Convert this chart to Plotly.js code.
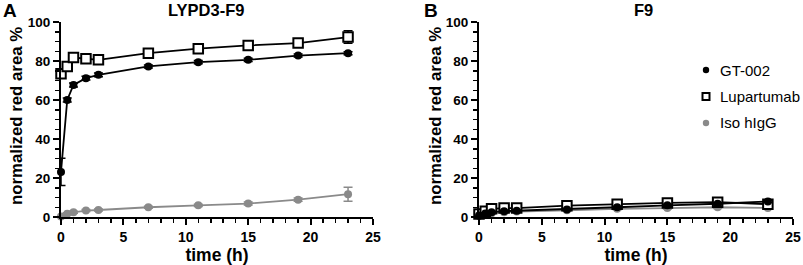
<!DOCTYPE html>
<html>
<head>
<meta charset="utf-8">
<script src="https://cdn.plot.ly/plotly-3.0.1.min.js"></script>
<style>
html,body{margin:0;padding:0;background:#fff;}
#chart{width:803px;height:265px;}
</style>
</head>
<body>
<div id="chart"></div>
<script>
// ---- data ----
var timeH = [0, 0.5, 1, 2, 3, 7, 11, 15, 19, 23];

// Panel A: LYPD3-F9
var gt002_A = [23.1, 60.0, 67.7, 71.2, 72.9, 77.2, 79.4, 80.6, 82.8, 84.0];
var gt002_A_sd = [7.0, 1.0, 1.0, 1.0, 1.0, 0.8, 0.8, 0.8, 0.8, 0.8];
var lupa_A = [73.4, 77.2, 81.8, 81.1, 80.6, 84.0, 86.3, 88.0, 89.2, 92.3];
var lupa_A_sd = [1.0, 1.0, 1.0, 1.0, 1.0, 1.0, 1.0, 1.2, 1.5, 3.2];
var iso_A = [0.3, 1.7, 2.4, 3.3, 3.6, 5.0, 6.0, 6.9, 8.9, 11.7];
var iso_A_sd = [0.3, 0.5, 0.5, 0.5, 0.5, 0.5, 0.6, 0.8, 0.8, 3.6];

// Panel B: F9
var gt002_B = [0.8, 1.8, 2.5, 3.0, 3.2, 3.9, 5.0, 6.0, 6.8, 8.0];
var gt002_B_sd = [0.3, 0.4, 0.4, 0.4, 0.4, 0.5, 0.5, 0.5, 0.6, 0.6];
var lupa_B = [1.5, 3.0, 4.2, 4.6, 4.6, 5.8, 6.6, 7.2, 7.6, 6.6];
var lupa_B_sd = [0.3, 0.4, 0.4, 0.4, 0.4, 0.5, 0.5, 0.5, 0.6, 0.6];
var iso_B = [0.5, 1.3, 1.9, 2.4, 2.8, 3.4, 4.2, 4.6, 5.0, 4.6];
var iso_B_sd = [0.3, 0.4, 0.4, 0.4, 0.4, 0.5, 0.5, 0.5, 0.6, 0.6];

var seriesNames = ['GT-002', 'Lupartumab', 'Iso hIgG'];
var panelTitles = ['LYPD3-F9', 'F9'];
var panelLetters = ['A', 'B'];
var xTitle = 'time (h)';
var yTitle = 'normalized red area %';

// ---- styling ----
var W = 803, H = 265;
var plotTop = 22, plotBot = 217;
var FONT = 'Liberation Sans, Arial, sans-serif';
var GRAY = '#8a8a8a';
function px2x(p){ return p / W; }
function px2y(p){ return (plotBot - p) / (plotBot - plotTop); }

var styles = [
  {marker:{symbol:'circle', size:8, color:'#000'}, line:{color:'#000', width:1.8}, err:'#000'},
  {marker:{symbol:'square', size:9.5, color:'#fff', line:{color:'#000', width:2}}, line:{color:'#000', width:1.8}, err:'#000'},
  {marker:{symbol:'circle', size:8, color:GRAY}, line:{color:GRAY, width:1.8}, err:GRAY}
];

function mk(x, y, sd, s, name, xa, ya){
  return {
    x: x, y: y, type:'scatter', mode:'lines+markers', name:name,
    xaxis: xa, yaxis: ya, showlegend:false, cliponaxis:false,
    marker: s.marker, line: s.line,
    error_y: {type:'data', array: sd, visible:true, color:s.err, thickness:1.5, width:4.5}
  };
}

var data = [
  mk(timeH, iso_A, iso_A_sd, styles[2], seriesNames[2], 'x', 'y'),
  mk(timeH, gt002_A, gt002_A_sd, styles[0], seriesNames[0], 'x', 'y'),
  mk(timeH, lupa_A, lupa_A_sd, styles[1], seriesNames[1], 'x', 'y'),
  mk(timeH, iso_B, iso_B_sd, styles[2], seriesNames[2], 'x2', 'y2'),
  mk(timeH, lupa_B, lupa_B_sd, styles[1], seriesNames[1], 'x2', 'y2'),
  mk(timeH, gt002_B, gt002_B_sd, styles[0], seriesNames[0], 'x2', 'y2')
];

function xaxis(domain, anchor){
  return {
    domain: domain, anchor: anchor, range:[0,25], dtick:5, tick0:0,
    showline:true, linecolor:'#000', linewidth:2, mirror:false,
    ticks:'outside', ticklen:6, tickwidth:2, tickcolor:'#000',
    minor:{dtick:1, ticks:'outside', ticklen:4, tickwidth:1.5, tickcolor:'#000'},
    showgrid:false, zeroline:false, fixedrange:true,
    tickfont:{family:FONT, size:14, color:'#000', weight:'bold'},
    title:{text:xTitle, font:{family:FONT, size:17.5, color:'#000', weight:'bold'}, standoff:5}
  };
}
function yaxis(domain, anchor){
  return {
    domain: domain, anchor: anchor, range:[0,100], dtick:20, tick0:0,
    showline:true, linecolor:'#000', linewidth:2,
    ticks:'outside', ticklen:6, tickwidth:2, tickcolor:'#000',
    minor:{dtick:5, ticks:'outside', ticklen:4, tickwidth:1.5, tickcolor:'#000'},
    showgrid:false, zeroline:false, fixedrange:true,
    tickfont:{family:FONT, size:13.5, color:'#000', weight:'bold'}
  };
}

var annotations = [
  {text:panelLetters[0], x:px2x(10), y:px2y(11), xref:'paper', yref:'paper', showarrow:false, xanchor:'center', yanchor:'middle', font:{family:FONT, size:19, color:'#000', weight:'bold'}},
  {text:panelLetters[1], x:px2x(431), y:px2y(11), xref:'paper', yref:'paper', showarrow:false, xanchor:'center', yanchor:'middle', font:{family:FONT, size:19, color:'#000', weight:'bold'}},
  {text:panelTitles[0], x:px2x(206), y:px2y(10), xref:'paper', yref:'paper', showarrow:false, xanchor:'center', yanchor:'middle', font:{family:FONT, size:16.5, color:'#000', weight:'bold'}},
  {text:panelTitles[1], x:px2x(643), y:px2y(10), xref:'paper', yref:'paper', showarrow:false, xanchor:'center', yanchor:'middle', font:{family:FONT, size:16.5, color:'#000', weight:'bold'}},
  {text:yTitle, textangle:-90, x:px2x(17), y:px2y(116), xref:'paper', yref:'paper', showarrow:false, xanchor:'center', yanchor:'middle', font:{family:FONT, size:16.8, color:'#000', weight:'bold'}},
  {text:yTitle, textangle:-90, x:px2x(436), y:px2y(116), xref:'paper', yref:'paper', showarrow:false, xanchor:'center', yanchor:'middle', font:{family:FONT, size:16.8, color:'#000', weight:'bold'}}
];

// custom legend (marker glyph + label)
var legY = [70, 96.5, 123];
var legX = 706, textX = 718;
var shapes = [];
for (var i = 0; i < seriesNames.length; i++){
  annotations.push({text:seriesNames[i], x:px2x(textX), y:px2y(legY[i]), xref:'paper', yref:'paper', showarrow:false, xanchor:'left', yanchor:'middle', font:{family:FONT, size:15, color:'#000'}});
}
shapes.push({type:'circle', xref:'paper', yref:'paper', x0:px2x(legX-3.2), x1:px2x(legX+3.2), y0:px2y(legY[0]+3.2), y1:px2y(legY[0]-3.2), fillcolor:'#000', line:{color:'#000', width:0}});
shapes.push({type:'rect', xref:'paper', yref:'paper', x0:px2x(legX-3.5), x1:px2x(legX+3.5), y0:px2y(legY[1]+3.5), y1:px2y(legY[1]-3.5), fillcolor:'#fff', line:{color:'#000', width:2}});
shapes.push({type:'circle', xref:'paper', yref:'paper', x0:px2x(legX-3.2), x1:px2x(legX+3.2), y0:px2y(legY[2]+3.2), y1:px2y(legY[2]-3.2), fillcolor:GRAY, line:{color:GRAY, width:0}});

var layout = {
  width: W, height: H,
  margin:{l:0, r:0, t:plotTop, b:H - plotBot, pad:0},
  paper_bgcolor:'#fff', plot_bgcolor:'#fff',
  showlegend:false,
  font:{family:FONT, color:'#000'},
  xaxis: xaxis([px2x(61), px2x(373)], 'y'),
  yaxis: yaxis([0,1], 'x'),
  xaxis2: xaxis([px2x(479), px2x(793)], 'y2'),
  yaxis2: yaxis([0,1], 'x2'),
  annotations: annotations,
  shapes: shapes
};

Plotly.newPlot('chart', data, layout, {staticPlot:true, displayModeBar:false});
</script>
</body>
</html>
